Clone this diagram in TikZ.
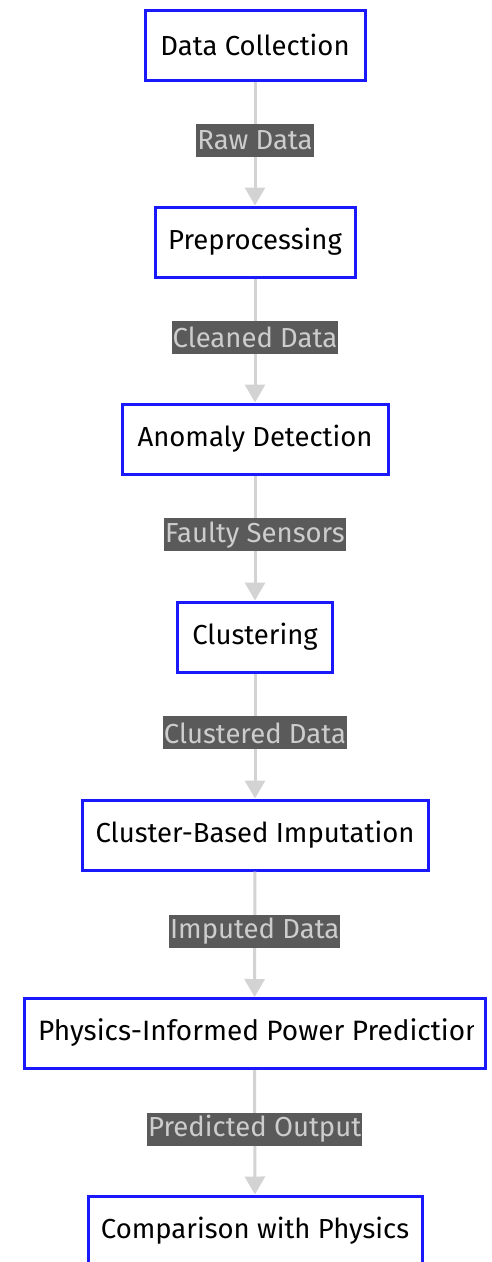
\documentclass[tikz,border=0pt]{standalone}
\usepackage{fontspec}
\setmainfont{Fira Sans}
\usetikzlibrary{arrows.meta}
\definecolor{boxblue}{RGB}{25,25,252}
\definecolor{linkgray}{RGB}{211,211,211}
\definecolor{labelbg}{RGB}{90,90,90}
\definecolor{labeltext}{RGB}{205,205,205}
\tikzset{
  stepbox/.style={draw=boxblue, line width=3pt, fill=white, minimum height=70pt,
    inner sep=0pt, font=\fontsize{27.5}{32}\selectfont, text=black},
  flowlink/.style={draw=linkgray, line width=3pt,
    -{Triangle[width=20pt,length=18pt]}},
  linklabel/.style={fill=labelbg, text=labeltext, inner xsep=1pt, inner ysep=0pt,
    minimum height=33pt, pos=0.475, font=\fontsize{27.5}{32}\selectfont}
}
\begin{document}
\begin{tikzpicture}[x=1pt,y=-1pt]
\useasboundingbox (0,0) rectangle (491,1262);
\clip (0,0) rectangle (491,1262);
\fill[white] (0,0) rectangle (491,1262);

% process boxes, top to bottom
\node[stepbox, minimum width=220pt] (collect) at (255,45) {Data Collection};
\node[stepbox, minimum width=200pt] (prep)    at (255,242) {Preprocessing};
\node[stepbox, minimum width=266pt] (anom)    at (255,439) {Anomaly Detection};
\node[stepbox, minimum width=155pt] (clust)   at (255,637) {Clustering};
\node[stepbox, minimum width=346pt] (imput)   at (255,835) {Cluster-Based Imputation};
\node[stepbox, minimum width=461pt] (phys)    at (254.5,1033.5) {};
\node[stepbox, minimum width=334pt] (comp)    at (255,1231) {Comparison with Physics};

% overflowing caption of the prediction box, cut at the inner edge
\begin{scope}
  \clip (26,1000) rectangle (473,1067);
  \node[anchor=west, inner sep=0pt, font=\fontsize{28}{32}\selectfont, text=black]
    (physlabel) at (38,1033) {Physics-Informed Power Prediction};
\end{scope}

% connectors with their data labels
\draw[flowlink] (collect) -- node[linklabel] {Raw Data} (prep);
\draw[flowlink] (prep) -- node[linklabel] {Cleaned Data} (anom);
\draw[flowlink] (anom) -- node[linklabel] {Faulty Sensors} (clust);
\draw[flowlink] (clust) -- node[linklabel] {Clustered Data} (imput);
\draw[flowlink] (imput) -- node[linklabel] {Imputed Data} (phys);
\draw[flowlink] (phys) -- node[linklabel] {Predicted Output} (comp);
\end{tikzpicture}
\end{document}
